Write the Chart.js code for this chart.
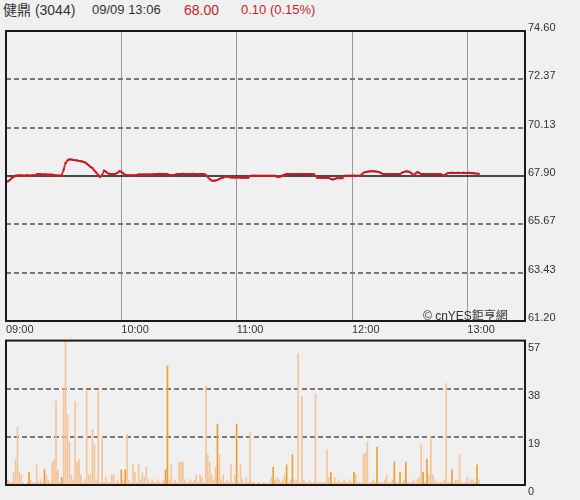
<!DOCTYPE html>
<html>
<head>
<meta charset="utf-8">
<script src="https://cdn.jsdelivr.net/npm/chart.js@4.4.1/dist/chart.umd.min.js"></script>
<style>
  html, body { margin: 0; padding: 0; background: #f0f0f0; }
  body { width: 580px; height: 500px; position: relative; overflow: hidden;
         font-family: "Liberation Sans", Arial, "Noto Sans CJK TC", sans-serif; }
  .hd { position: absolute; top: 2px; font-size: 13px; line-height: 16px; color: #333; white-space: nowrap; }
  .red { color: #c8232c; }
  #mark { position: absolute; left: 423px; top: 306px; font-size: 12px; color: #333; white-space: nowrap; }
  canvas { position: absolute; left: 0; }
</style>
</head>
<body>
<div class="hd" style="left:3px;font-size:14px">健鼎 (3044)</div>
<div class="hd" style="left:92px">09/09 13:06</div>
<div class="hd red" style="left:184px;font-size:14px">68.00</div>
<div class="hd red" style="left:241px">0.10 (0.15%)</div>

<canvas id="price" width="580" height="340" style="top:0"></canvas>
<canvas id="volume" width="580" height="169" style="top:331px"></canvas>
<div id="mark">© cnYES鉅亨網</div>

<script>
// minutes after 09:00, one value per minute up to 13:06
var hourTicks = [0, 60, 120, 180, 240];
var hourLabels = ['09:00', '10:00', '11:00', '12:00', '13:00'];
var sessionMinutes = 270;

var prevClose = 67.90;
var priceTicks = [61.20, 63.43, 65.67, 67.90, 70.13, 72.37, 74.60];
var volumeTicks = [0, 19, 38, 57];

var prices = [
  67.60,67.65,67.72,67.80,67.86,67.92,67.92,67.93,67.92,67.92,
  67.92,67.93,67.92,67.92,67.93,67.92,67.98,67.99,67.98,67.97,
  67.98,67.97,67.96,67.97,67.96,67.95,67.93,67.92,67.92,67.93,
  68.20,68.50,68.62,68.67,68.66,68.64,68.63,68.62,68.60,68.58,
  68.56,68.53,68.47,68.40,68.32,68.26,68.15,68.05,67.95,67.85,
  67.95,68.15,68.10,68.02,68.00,67.99,67.99,68.00,68.05,68.12,
  68.10,68.02,67.96,67.94,67.93,67.93,67.93,67.94,67.95,67.97,
  67.97,67.97,67.97,67.97,67.97,67.97,67.98,67.98,67.99,67.99,
  68.00,67.99,67.99,68.00,67.98,67.95,67.94,67.94,67.96,67.99,
  67.99,67.99,68.00,67.99,67.99,67.99,67.99,68.00,67.99,67.99,
  67.99,67.99,67.99,67.99,67.95,67.85,67.75,67.69,67.68,67.69,
  67.72,67.76,67.80,67.83,67.87,67.88,67.86,67.83,67.83,67.83,
  67.83,67.83,67.82,67.82,67.82,67.82,67.82,67.90,67.91,67.91,
  67.91,67.91,67.91,67.91,67.91,67.91,67.91,67.91,67.91,67.91,
  67.91,67.86,67.85,67.88,67.93,67.96,67.99,67.99,67.99,67.99,
  67.99,67.99,67.99,67.99,67.99,67.99,67.99,67.99,67.99,67.99,
  67.99,67.90,67.82,67.82,67.81,67.81,67.82,67.82,67.82,67.76,
  67.74,67.76,67.80,67.80,67.80,67.80,67.91,67.91,67.91,67.91,
  67.91,67.91,67.91,67.91,67.91,67.96,68.05,68.08,68.10,68.11,
  68.12,68.12,68.11,68.10,68.08,68.04,67.99,67.99,67.99,67.99,
  67.99,67.99,67.99,67.99,67.99,67.99,68.05,68.09,68.11,68.11,
  68.08,68.02,67.94,68.01,68.08,68.04,67.99,67.99,67.99,67.99,
  67.99,67.99,67.99,67.99,67.99,67.99,67.99,67.95,67.93,67.99,
  68.04,68.04,68.05,68.04,68.04,68.05,68.04,68.04,68.05,68.04,
  68.04,68.05,68.03,68.04,68.02,68.01,68.00
];

var volumes = [
  18,2,1,1,5,10,23,5,4,1,
  0,1,5,2,1,1,8,1,2,1,
  6,4,2,1,9,10,33,6,1,3,
  38,57,28,17,4,2,33,9,10,4,
  1,2,37,4,4,22,16,2,37,1,
  19,1,3,1,1,4,4,1,2,1,
  6,2,6,20,2,1,8,5,1,8,
  2,5,3,7,2,1,2,1,1,2,
  1,1,2,6,47,2,8,1,2,1,
  9,9,9,2,1,1,2,1,2,4,
  1,4,3,1,39,12,9,4,2,7,
  24,12,2,4,1,2,1,8,1,4,
  24,1,8,2,1,3,1,21,1,1,
  0,1,1,0,1,1,0,1,3,7,
  2,3,2,1,2,4,8,1,2,12,
  2,2,52,1,35,2,1,1,2,1,
  1,36,1,1,1,1,1,14,3,5,
  1,3,1,2,1,1,2,1,1,2,
  1,5,4,1,1,1,12,13,17,1,
  1,2,1,15,1,1,1,2,4,1,
  1,2,9,1,1,5,1,2,9,1,
  1,1,2,1,2,3,16,5,1,10,
  4,19,4,2,1,1,1,1,2,40,
  1,1,6,1,2,2,12,1,1,1,
  3,1,2,2,1,8,2
];

// minutes whose volume traded at the ask (drawn darker)
var askMinutes = [12, 20, 29, 60, 62, 83, 84, 110, 120, 139, 146, 149, 169, 181, 193, 202, 205, 208, 217, 219, 232, 245];

var tickFont = { family: '"Liberation Sans", Arial, sans-serif', size: 11 };
var tickColor = '#333';

var framePlugin = {
  id: 'frame',
  afterDraw: function(chart) {
    var a = chart.chartArea, c = chart.ctx;
    c.save();
    c.strokeStyle = '#1a1a1a';
    c.lineWidth = 2;
    c.strokeRect(a.left, a.top, a.right - a.left, a.bottom - a.top);
    c.restore();
  }
};

function setTicks(list) {
  return function(scale) {
    scale.ticks = list.map(function(v) { return { value: v }; });
  };
}

new Chart(document.getElementById('price'), {
  type: 'line',
  data: {
    datasets: [
      {
        data: prices.map(function(p, i) { return { x: i, y: p }; }),
        borderColor: '#de3a3e',
        borderWidth: 2,
        pointRadius: 1.3,
        pointStyle: 'rect',
        pointBackgroundColor: '#c0141c',
        pointBorderWidth: 0,
        tension: 0,
        order: 1
      },
      {
        data: [{ x: 0, y: prevClose }, { x: sessionMinutes, y: prevClose }],
        borderColor: '#111',
        borderWidth: 1.5,
        pointRadius: 0,
        order: 2
      }
    ]
  },
  options: {
    responsive: false,
    animation: false,
    layout: { padding: { left: 6, top: 31, right: 0, bottom: 0 } },
    plugins: { legend: { display: false }, tooltip: { enabled: false } },
    scales: {
      x: {
        type: 'linear', min: 0, max: sessionMinutes,
        afterBuildTicks: setTicks(hourTicks),
        afterFit: function(s) { s.height = 19; },
        grid: {
          drawTicks: false,
          color: function(c) { return c.tick && c.tick.value === 0 ? 'rgba(0,0,0,0)' : '#9a9a9a'; },
          lineWidth: 1
        },
        border: { display: false },
        ticks: {
          align: 'start', padding: 2, maxRotation: 0, autoSkip: false,
          font: tickFont, color: tickColor,
          callback: function(v, i) { return hourLabels[i]; }
        }
      },
      y: {
        position: 'right', min: priceTicks[0], max: priceTicks[priceTicks.length - 1],
        afterBuildTicks: setTicks(priceTicks),
        afterFit: function(s) { s.width = 55; },
        grid: {
          drawTicks: false,
          lineWidth: 2,
          color: function(c) {
            var v = c.tick && c.tick.value;
            if (v === priceTicks[0] || v === priceTicks[priceTicks.length - 1] || v === prevClose) return 'rgba(0,0,0,0)';
            return '#7a7a7a';
          }
        },
        border: { display: false, dash: [5, 3] },
        ticks: {
          padding: 3, labelOffset: -3, autoSkip: false,
          font: tickFont, color: tickColor,
          callback: function(v) { return v.toFixed(2); }
        }
      }
    }
  },
  plugins: [framePlugin]
});

new Chart(document.getElementById('volume'), {
  type: 'bar',
  data: {
    datasets: [{
      data: volumes.map(function(v, i) { return { x: i, y: v }; }),
      backgroundColor: function(c) {
        return askMinutes.indexOf(c.dataIndex) >= 0 ? '#f0a030' : '#f6c498';
      },
      barThickness: 1,
      borderWidth: 0
    }]
  },
  options: {
    responsive: false,
    animation: false,
    layout: { padding: { left: 6, top: 5, right: 0, bottom: 15 } },
    plugins: { legend: { display: false }, tooltip: { enabled: false } },
    scales: {
      x: { type: 'linear', min: 0, max: sessionMinutes, display: false, offset: false },
      y: {
        position: 'right', min: 0, max: volumeTicks[volumeTicks.length - 1],
        afterBuildTicks: setTicks(volumeTicks),
        afterFit: function(s) { s.width = 55; },
        grid: {
          drawTicks: false,
          lineWidth: 2,
          color: function(c) {
            var v = c.tick && c.tick.value;
            return (v === 19 || v === 38) ? '#7a7a7a' : 'rgba(0,0,0,0)';
          }
        },
        border: { display: false, dash: [5, 3] },
        ticks: {
          padding: 3, labelOffset: 7, autoSkip: false,
          font: tickFont, color: tickColor
        }
      }
    }
  },
  plugins: [framePlugin]
});
</script>
</body>
</html>
